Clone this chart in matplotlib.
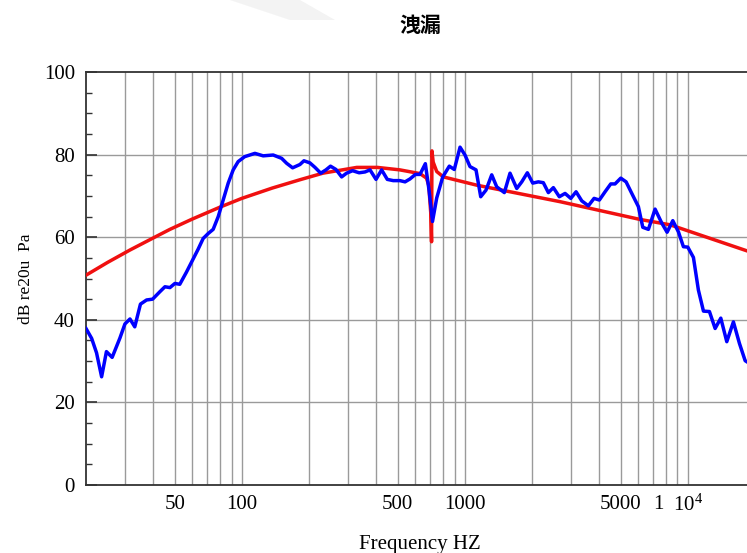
import matplotlib
matplotlib.use("Agg")
import matplotlib.pyplot as plt
import numpy as np

blue_freq = [20, 21.2, 22.3, 23.5, 24.7, 26.2, 28.4, 29.9, 31.5, 33.1, 35.1, 37.4, 39.8,
             42.9, 45.2, 47.6, 50.1, 52.7, 56.4, 60.2, 63.7, 67.1, 70.7, 74.4, 78.4, 82.5,
             86.9, 91.5, 96.3, 103, 114.5, 124.7, 138.3, 150.9, 158.9, 169, 182.3, 190,
             202, 213, 226, 238.5, 250, 264.5, 280.5, 295, 314, 336, 357, 376, 400, 424,
             449.5, 478, 512, 540, 568, 601, 630, 666, 693, 717, 749, 797, 853, 898, 953,
             1003, 1056, 1124, 1180, 1246, 1322, 1392, 1506, 1597, 1712, 1803, 1910, 2020,
             2140, 2253, 2373, 2499, 2658, 2820, 2991, 3160, 3351, 3587, 3805, 4019, 4263,
             4521, 4726, 5014, 5297, 5618, 6015, 6294, 6670, 7147, 7661, 8091, 8582, 9095,
             9576, 10020, 10620, 11180, 11780, 12530, 13290, 14090, 14990, 16050, 17080,
             18120, 18490]
blue_db = [37.9, 35.5, 32.0, 26.2, 32.3, 30.9, 35.6, 39.0, 40.2, 38.3, 43.8, 44.8, 45.0,
           46.8, 48.0, 47.8, 48.8, 48.6, 51.5, 54.5, 57.1, 59.7, 60.9, 61.9, 65.0, 69.0,
           73.1, 76.3, 78.3, 79.5, 80.3, 79.7, 79.9, 79.1, 77.9, 76.8, 77.6, 78.5,
           78.0, 76.9, 75.5, 76.3, 77.2, 76.4, 74.6, 75.5, 76.1, 75.6, 75.8, 76.3, 74.0, 76.3,
           74.0, 73.7, 73.7, 73.4, 74.1, 75.2, 75.2, 77.8, 71.1, 63.8, 69.5, 74.6, 77.2, 76.4, 81.8,
           79.9, 77.1, 76.3, 69.8, 71.4, 75.1, 72.2, 70.8, 75.5, 71.8, 73.4, 75.6, 73.1,
           73.4, 73.2, 70.8, 72.0, 69.8, 70.6, 69.4, 71.0, 68.8, 67.6, 69.4, 69.0, 71.0,
           72.9, 72.9, 74.3, 73.4, 70.6, 67.4, 62.4, 61.9, 66.8, 63.4, 61.2, 64.0, 61.3,
           57.7, 57.6, 55.1, 47.2, 42.1, 42.0, 37.9, 40.4, 34.7, 39.5, 34.3,
           30.1, 29.8]

# fitted/model curve (red)
red_freq = [20, 25, 31.5, 40, 47.6, 60, 80, 100, 137, 182, 231, 328, 406, 512, 630, 674,
            690, 704, 710, 713, 722, 749, 802, 1132, 1597, 2678, 6118, 8346, 18450]
red_db = [50.8, 53.9, 56.9, 59.8, 61.9, 64.4, 67.3, 69.4, 71.9, 73.9, 75.5, 76.9, 76.9,
          76.3, 75.4, 74.3, 72.5, 66.0, 58.9, 80.9, 78.2, 75.9, 74.6, 72.6, 71.0, 68.6,
          64.3, 63.0, 56.7]

xtick_pos = [50, 100, 500, 1000, 5000, 7400, 10000]
xtick_lab = ['50', '100', '500', '1000', '5000', '1', r'$\mathregular{10^4}$']
grid_freqs = [f * d for d in (10, 100, 1000) for f in range(2, 10) if f * d > 20] + [100, 1000, 10000]

plt.rcParams['font.family'] = ['Liberation Serif', 'DejaVu Serif']
plt.rcParams['mathtext.fontset'] = 'custom'
plt.rcParams['mathtext.rm'] = 'Liberation Serif'

fig = plt.figure(figsize=(7.47, 5.53), dpi=100)

# faint watermark band at the top
fig.patches.append(plt.Polygon([(230 / 747, 1.0), (300 / 747, 1.0), (335 / 747, 1 - 20 / 553),
                                (290 / 747, 1 - 20 / 553)], closed=True,
                               transform=fig.transFigure, color='#f3f3f3', lw=0))

ax = fig.add_axes([86 / 747, 68 / 553, 668.7 / 747, 413 / 553])

for g in grid_freqs:
    ax.axvline(g, color='#9a9a9a', lw=1.0, zorder=1)
for g in [20, 40, 60, 80]:
    ax.axhline(g, color='#9a9a9a', lw=1.0, zorder=1)

ax.plot(red_freq, red_db, color='#f01010', lw=2.5, zorder=3)
ax.plot(blue_freq, blue_db, color='#0000ff', lw=2.5, zorder=4)

ax.set_xscale('log')
ax.set_xlim(20, 20000)
ax.set_ylim(0, 100)
ax.set_xticks(xtick_pos)
ax.set_xticklabels(xtick_lab)
ax.xaxis.set_minor_locator(matplotlib.ticker.NullLocator())
ax.set_yticks([0, 20, 40, 60, 80, 100])
ax.set_yticks(np.arange(0, 101, 5), minor=True)
ax.tick_params(axis='both', which='major', direction='in', labelsize=15, color='#333333')
ax.tick_params(axis='x', which='major', length=0, pad=7)
ax.tick_params(axis='y', which='major', length=8, width=1.2, pad=8)
ax.tick_params(axis='y', which='minor', direction='in', length=4, width=1.0, color='#333333')

for s in ['left', 'bottom', 'top']:
    ax.spines[s].set_color('#333333')
    ax.spines[s].set_linewidth(1.3)
ax.spines['right'].set_visible(False)

ax.set_xlabel('Frequency HZ', fontsize=15, labelpad=14)
ax.set_ylabel('dB re20u  Pa', fontsize=12.5, labelpad=7)

fig.text(420 / 747, 1 - 25 / 553, '洩漏', fontsize=15, fontweight='bold',
         family=['Noto Sans CJK TC', 'DejaVu Sans'], ha='center', va='center')

fig.savefig('out.png', dpi=100)
